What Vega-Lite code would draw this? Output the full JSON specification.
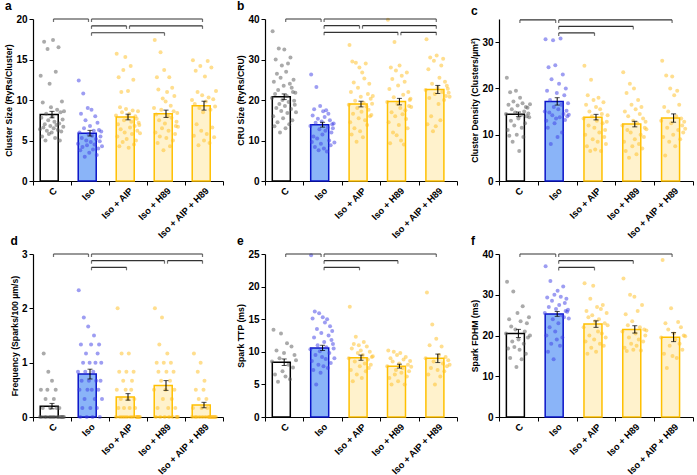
{
  "$schema": "https://vega.github.io/schema/vega-lite/v6.json",
  "padding": {"left": 4, "top": 0, "right": 0, "bottom": 0},
  "columns": 3,
  "bounds": "flush",
  "spacing": {"row": 73, "column": 42},
  "datasets": {
    "pts": [
      {"p": "a", "g": "C", "v": [6.4, 13.0, 7.8, 5.5, 9.7, 6.6, 17.2, 7.0, 5.0, 8.3, 6.2, 16.3, 7.5, 5.8, 12.0, 6.8, 9.1, 6.0, 8.0, 17.4, 6.5, 7.3, 5.3, 13.5, 6.9, 8.8, 6.3, 16.5, 7.1, 5.0, 8.5, 6.1, 9.8, 7.6, 6.7, 8.6]},
      {"p": "a", "g": "Iso", "v": [4.6, 12.4, 6.0, 3.8, 8.3, 5.3, 4.2, 10.8, 6.5, 3.0, 7.5, 5.0, 4.4, 9.0, 5.8, 3.5, 6.8, 4.8, 8.8, 5.6, 3.9, 6.2, 4.5, 8.0, 5.2, 3.2, 7.2, 4.0, 6.3, 4.9, 5.5, 6.1, 4.3]},
      {"p": "a", "g": "Iso + AIP", "v": [8.1, 15.7, 5.5, 7.0, 12.8, 4.3, 9.1, 6.4, 11.0, 8.5, 4.8, 13.7, 7.5, 6.0, 15.3, 8.9, 5.2, 7.9, 11.1, 4.1, 8.3, 6.6, 14.2, 7.3, 5.8, 8.7, 12.5, 4.5, 6.8, 8.0, 5.0, 7.7, 6.2, 8.6, 7.2, 6.9, 5.9]},
      {"p": "a", "g": "Iso + H89", "v": [9.0, 17.4, 6.0, 8.2, 12.8, 4.7, 11.3, 7.5, 5.5, 15.9, 8.8, 6.5, 10.2, 3.8, 13.7, 7.1, 9.8, 5.3, 11.0, 8.0, 6.2, 12.8, 4.3, 9.3, 7.8, 11.5, 5.0, 8.6, 10.5, 5.8, 6.8, 7.3, 8.4, 6.7]},
      {"p": "a", "g": "Iso + AIP + H89", "v": [10.0, 14.9, 5.6, 9.5, 13.6, 7.0, 11.0, 4.4, 9.0, 14.2, 6.2, 10.6, 8.5, 5.0, 12.9, 9.8, 5.8, 14.8, 10.3, 4.7, 8.8, 14.0, 6.6, 10.1, 5.4, 9.2, 11.1]},
      {"p": "b", "g": "C", "v": [20.5, 37.0, 16.0, 24.5, 13.5, 21.5, 30.0, 18.0, 26.5, 14.5, 22.5, 32.7, 19.0, 12.0, 25.5, 17.3, 28.5, 20.0, 15.5, 23.5, 32.5, 18.5, 13.0, 27.0, 21.0, 16.8, 29.0, 19.5, 14.0, 24.0, 30.5, 17.8, 23.0, 15.0, 22.0, 25.0, 19.8, 18.8, 21.8, 17.0]},
      {"p": "b", "g": "Iso", "v": [13.6, 26.3, 9.6, 16.2, 11.0, 17.7, 8.4, 14.4, 23.2, 10.5, 15.4, 7.6, 12.8, 18.5, 9.2, 14.7, 11.5, 17.2, 8.0, 15.8, 12.4, 17.5, 7.3, 13.2, 16.6, 10.0, 15.0, 8.8, 12.0, 14.0, 13.0, 14.2, 9.5]},
      {"p": "b", "g": "Iso + AIP", "v": [18.8, 33.6, 14.5, 22.0, 11.5, 29.5, 16.6, 24.3, 13.0, 19.8, 29.2, 9.7, 18.0, 23.0, 15.5, 28.0, 12.3, 20.8, 17.1, 26.8, 10.8, 19.3, 25.3, 15.0, 29.0, 18.4, 13.8, 21.5, 17.6, 24.0, 16.0, 20.3, 16.3, 19.1, 21.0]},
      {"p": "b", "g": "Iso + H89", "v": [19.5, 39.8, 14.5, 22.7, 9.3, 28.0, 17.0, 25.2, 12.0, 20.7, 34.3, 16.0, 27.3, 11.3, 19.0, 23.6, 13.8, 28.5, 18.0, 10.0, 26.0, 16.5, 21.3, 9.0, 24.5, 17.5, 15.3, 26.8, 13.0, 22.0, 18.5, 20.0, 20.3, 18.3]},
      {"p": "b", "g": "Iso + AIP + H89", "v": [22.5, 35.0, 14.0, 27.6, 20.5, 30.5, 16.0, 24.0, 12.3, 29.7, 21.5, 13.5, 31.0, 23.0, 19.0, 25.5, 15.0, 28.5, 22.0, 30.2, 20.0, 24.5, 21.0, 23.5, 22.8, 21.8, 20.8]},
      {"p": "c", "g": "C", "v": [14.5, 22.3, 11.0, 16.5, 9.8, 19.2, 13.0, 15.5, 8.5, 17.2, 12.0, 14.8, 19.5, 10.0, 16.3, 13.5, 6.5, 18.0, 14.2, 11.5, 16.8, 9.5, 15.0, 12.5, 16.0, 14.0, 15.8, 14.6, 13.8, 16.6]},
      {"p": "c", "g": "Iso", "v": [15.0, 30.6, 13.0, 19.5, 11.5, 24.6, 14.8, 17.5, 8.0, 22.0, 14.2, 30.4, 16.0, 12.5, 25.0, 13.5, 19.0, 9.5, 15.5, 21.0, 13.8, 30.8, 16.5, 10.5, 23.0, 14.5, 18.5, 13.2, 20.0, 15.2, 14.0, 16.8, 14.3]},
      {"p": "c", "g": "Iso + AIP", "v": [13.5, 24.9, 10.0, 16.5, 7.5, 18.5, 12.0, 15.0, 6.5, 21.9, 14.0, 9.0, 17.5, 11.5, 6.8, 16.0, 13.0, 8.5, 18.0, 10.5, 15.5, 6.5, 14.5, 12.5, 17.0, 9.5, 11.0, 8.0, 12.8, 14.2]},
      {"p": "c", "g": "Iso + H89", "v": [12.0, 23.5, 8.5, 15.0, 6.5, 19.0, 11.0, 14.0, 5.0, 21.0, 10.5, 16.5, 7.5, 13.0, 20.0, 9.0, 15.5, 5.8, 12.5, 17.5, 8.0, 14.5, 10.0, 16.0, 7.0, 13.5, 9.5, 11.5, 12.8, 11.2]},
      {"p": "c", "g": "Iso + AIP + H89", "v": [13.0, 26.0, 9.5, 16.0, 5.5, 22.8, 11.5, 15.0, 8.5, 20.0, 12.5, 22.6, 10.0, 18.5, 7.5, 14.0, 19.5, 11.0, 16.5, 9.0, 13.5, 12.0, 10.5, 12.8, 11.3]},
      {"p": "d", "g": "C", "v": [0, 0.5, 0, 0.167, 1.167, 0, 0.333, 0, 0.5, 0.833, 0, 0.167, 0, 0.667, 0, 0.333, 0, 0.5, 0.167, 0, 0, 0.167, 0, 0, 0, 0, 0]},
      {"p": "d", "g": "Iso", "v": [0.833, 2.333, 0.5, 0, 1.333, 0.667, 0.167, 1.0, 1.833, 0.333, 0.833, 1.167, 0, 0.5, 1.667, 0.667, 1.0, 0.167, 1.333, 0.5, 0, 0.833, 1.5, 0.333, 1.0, 0.667, 0.167, 1.167, 0.5, 1.333, 0, 0.667, 1.0, 0.333]},
      {"p": "d", "g": "Iso + AIP", "v": [0, 0.5, 2.0, 0.167, 0.833, 0, 0.333, 1.167, 0, 0.667, 0.167, 0, 0.5, 0.833, 0, 0.333, 1.167, 0.167, 0, 0.5, 0.667, 0, 0.833, 0.333, 0.167, 0, 0, 0, 0, 0, 0]},
      {"p": "d", "g": "Iso + H89", "v": [0.5, 2.0, 0, 1.0, 0.167, 0.833, 1.333, 0, 0.667, 1.833, 0.333, 1.0, 0, 0.5, 0.833, 1.167, 0.167, 0, 0.667, 1.0, 0.333, 0, 0.833, 0.5, 0.167, 0, 0, 0]},
      {"p": "d", "g": "Iso + AIP + H89", "v": [0, 0.167, 1.167, 0, 0.5, 0, 0.833, 0.333, 0, 1.0, 0.167, 0, 0.5, 0.667, 0, 0.333, 0.167, 0, 0, 0, 0, 0, 0, 0, 0, 0]},
      {"p": "e", "g": "C", "v": [8.5, 13.4, 6.5, 10.2, 5.4, 9.0, 12.8, 7.0, 9.8, 6.2, 11.3, 8.0, 5.8, 10.8, 7.6, 9.5, 8.7]},
      {"p": "e", "g": "Iso", "v": [10.4, 24.8, 8.6, 15.1, 7.2, 12.2, 16.2, 9.5, 5.0, 13.5, 11.0, 8.0, 15.9, 10.1, 6.8, 12.9, 9.2, 15.3, 7.8, 11.5, 14.5, 8.9, 10.7, 15.0, 7.5, 12.5, 9.8, 13.9, 8.3, 11.8, 13.2, 11.2, 10.5, 9.0]},
      {"p": "e", "g": "Iso + AIP", "v": [9.0, 16.9, 7.2, 10.5, 5.5, 11.2, 8.5, 12.3, 6.5, 9.8, 11.0, 7.8, 10.2, 6.0, 9.5, 11.5, 8.2, 7.0, 10.8, 8.8, 7.5, 10.0, 8.0, 9.2, 9.3]},
      {"p": "e", "g": "Iso + H89", "v": [7.8, 10.2, 6.0, 9.0, 5.0, 8.5, 10.0, 6.5, 7.2, 9.5, 5.5, 8.2, 9.8, 6.8, 7.5, 8.8, 5.0, 9.2, 6.2, 8.0, 7.0, 8.6, 7.7]},
      {"p": "e", "g": "Iso + AIP + H89", "v": [9.0, 19.1, 6.5, 11.0, 7.5, 14.2, 8.5, 5.0, 12.0, 7.2, 9.5, 6.2, 10.8, 8.2, 7.0, 9.2, 7.8, 8.7, 8.0]},
      {"p": "f", "g": "C", "v": [20.5, 33.2, 16.8, 24.0, 14.5, 22.2, 18.5, 30.8, 17.2, 21.5, 12.3, 25.5, 19.0, 16.5, 23.5, 14.2, 27.2, 18.0, 21.0, 15.5, 23.0, 19.5, 24.5, 20.0]},
      {"p": "f", "g": "Iso", "v": [25.5, 37.0, 20.0, 29.3, 16.0, 27.0, 22.0, 33.4, 18.0, 28.5, 24.0, 14.2, 30.0, 21.0, 26.5, 19.0, 31.0, 23.0, 27.5, 17.5, 29.5, 25.0, 19.5, 32.0, 24.5, 28.0, 26.0, 29.0, 25.8, 26.3, 24.2]},
      {"p": "f", "g": "Iso + AIP", "v": [22.0, 32.8, 18.5, 26.0, 15.5, 24.5, 20.0, 29.0, 17.0, 25.0, 32.2, 19.0, 23.5, 16.0, 27.0, 21.0, 24.0, 18.0, 26.5, 20.5, 27.5, 17.5, 23.0, 19.5, 25.5, 22.5]},
      {"p": "f", "g": "Iso + H89", "v": [21.0, 34.0, 17.0, 25.2, 16.2, 22.5, 19.5, 30.0, 18.0, 23.5, 16.5, 29.5, 20.5, 17.5, 26.0, 19.0, 22.0, 16.3, 27.5, 18.5, 21.5, 20.0, 21.2]},
      {"p": "f", "g": "Iso + AIP + H89", "v": [19.5, 38.5, 15.5, 23.0, 12.0, 21.5, 17.5, 26.7, 15.0, 20.5, 19.0, 14.5, 23.3, 18.0, 22.0, 16.5, 20.0, 19.8]}
    ],
    "s": [
      {"p": "a", "g": "C", "m": 8.2, "lo": 7.8, "hi": 8.6},
      {"p": "a", "g": "Iso", "m": 5.9, "lo": 5.55, "hi": 6.25},
      {"p": "a", "g": "Iso + AIP", "m": 7.9, "lo": 7.55, "hi": 8.25},
      {"p": "a", "g": "Iso + H89", "m": 8.3, "lo": 7.85, "hi": 8.75},
      {"p": "a", "g": "Iso + AIP + H89", "m": 9.3, "lo": 8.75, "hi": 9.85},
      {"p": "b", "g": "C", "m": 20.8, "lo": 20.1, "hi": 21.5},
      {"p": "b", "g": "Iso", "m": 13.9, "lo": 13.3, "hi": 14.5},
      {"p": "b", "g": "Iso + AIP", "m": 19.0, "lo": 18.3, "hi": 19.7},
      {"p": "b", "g": "Iso + H89", "m": 19.6, "lo": 18.8, "hi": 20.4},
      {"p": "b", "g": "Iso + AIP + H89", "m": 22.6, "lo": 21.6, "hi": 23.6},
      {"p": "c", "g": "C", "m": 14.4, "lo": 13.9, "hi": 14.9},
      {"p": "c", "g": "Iso", "m": 17.2, "lo": 16.4, "hi": 18.0},
      {"p": "c", "g": "Iso + AIP", "m": 13.8, "lo": 13.2, "hi": 14.4},
      {"p": "c", "g": "Iso + H89", "m": 12.3, "lo": 11.7, "hi": 12.9},
      {"p": "c", "g": "Iso + AIP + H89", "m": 13.6, "lo": 12.7, "hi": 14.5},
      {"p": "d", "g": "C", "m": 0.2, "lo": 0.15, "hi": 0.25},
      {"p": "d", "g": "Iso", "m": 0.79, "lo": 0.7, "hi": 0.88},
      {"p": "d", "g": "Iso + AIP", "m": 0.37, "lo": 0.31, "hi": 0.43},
      {"p": "d", "g": "Iso + H89", "m": 0.58, "lo": 0.49, "hi": 0.67},
      {"p": "d", "g": "Iso + AIP + H89", "m": 0.22, "lo": 0.17, "hi": 0.27},
      {"p": "e", "g": "C", "m": 8.4, "lo": 7.9, "hi": 8.9},
      {"p": "e", "g": "Iso", "m": 10.6, "lo": 10.2, "hi": 11.0},
      {"p": "e", "g": "Iso + AIP", "m": 9.1, "lo": 8.7, "hi": 9.5},
      {"p": "e", "g": "Iso + H89", "m": 7.8, "lo": 7.5, "hi": 8.1},
      {"p": "e", "g": "Iso + AIP + H89", "m": 9.0, "lo": 8.35, "hi": 9.65},
      {"p": "f", "g": "C", "m": 20.5, "lo": 19.5, "hi": 21.5},
      {"p": "f", "g": "Iso", "m": 25.3, "lo": 24.7, "hi": 25.9},
      {"p": "f", "g": "Iso + AIP", "m": 22.8, "lo": 22.0, "hi": 23.6},
      {"p": "f", "g": "Iso + H89", "m": 21.5, "lo": 20.6, "hi": 22.4},
      {"p": "f", "g": "Iso + AIP + H89", "m": 19.6, "lo": 18.5, "hi": 20.7}
    ],
    "br": [
      {"p": "a", "g1": "C", "g2": "Iso", "y": 20},
      {"p": "a", "g1": "Iso", "g2": "Iso + AIP + H89", "y": 20},
      {"p": "a", "g1": "Iso", "g2": "Iso + AIP", "y": 19.15},
      {"p": "a", "g1": "Iso + AIP", "g2": "Iso + AIP + H89", "y": 19.15},
      {"p": "a", "g1": "Iso", "g2": "Iso + H89", "y": 18.3},
      {"p": "b", "g1": "C", "g2": "Iso", "y": 40},
      {"p": "b", "g1": "Iso", "g2": "Iso + AIP + H89", "y": 40},
      {"p": "b", "g1": "Iso", "g2": "Iso + AIP", "y": 38.35},
      {"p": "b", "g1": "Iso + AIP", "g2": "Iso + AIP + H89", "y": 38.35},
      {"p": "b", "g1": "Iso", "g2": "Iso + H89", "y": 36.7},
      {"p": "b", "g1": "Iso + H89", "g2": "Iso + AIP + H89", "y": 36.7},
      {"p": "c", "g1": "C", "g2": "Iso", "y": 34.8},
      {"p": "c", "g1": "Iso", "g2": "Iso + AIP + H89", "y": 34.8},
      {"p": "c", "g1": "Iso", "g2": "Iso + H89", "y": 33.4},
      {"p": "c", "g1": "Iso", "g2": "Iso + AIP", "y": 32.0},
      {"p": "d", "g1": "C", "g2": "Iso", "y": 3},
      {"p": "d", "g1": "Iso", "g2": "Iso + AIP + H89", "y": 3},
      {"p": "d", "g1": "Iso", "g2": "Iso + H89", "y": 2.877},
      {"p": "d", "g1": "Iso + H89", "g2": "Iso + AIP + H89", "y": 2.877},
      {"p": "d", "g1": "Iso", "g2": "Iso + AIP", "y": 2.755},
      {"p": "e", "g1": "C", "g2": "Iso", "y": 25},
      {"p": "e", "g1": "Iso", "g2": "Iso + AIP + H89", "y": 25},
      {"p": "e", "g1": "Iso", "g2": "Iso + H89", "y": 23.97},
      {"p": "e", "g1": "Iso", "g2": "Iso + AIP", "y": 22.96},
      {"p": "f", "g1": "C", "g2": "Iso", "y": 40},
      {"p": "f", "g1": "Iso", "g2": "Iso + AIP + H89", "y": 40},
      {"p": "f", "g1": "Iso", "g2": "Iso + H89", "y": 38.35},
      {"p": "f", "g1": "Iso", "g2": "Iso + AIP", "y": 36.7}
    ]
  },
  "concat": [
    {
      "title": "a", "width": 190, "height": 162,
      "layer": [
        {"data": {"name": "s"}, "transform": [{"filter": "datum.p == 'a'"}],
         "mark": {"type": "bar", "width": {"band": 0.62}, "strokeWidth": 1.5},
         "encoding": {
           "x": {"field": "g", "type": "nominal", "sort": null, "scale": {"domain": ["C", "Iso", "Iso + AIP", "Iso + H89", "Iso + AIP + H89"], "paddingInner": 0, "paddingOuter": 0}, "axis": {"title": null}},
           "y": {"field": "m", "type": "quantitative", "scale": {"domain": [0, 20], "nice": false, "zero": true}, "axis": {"values": [0, 5, 10, 15, 20], "tickCount": 10, "title": "Cluster Size (RyRs/Cluster)"}},
           "fill": {"field": "g", "type": "nominal", "scale": {"domain": ["C", "Iso", "Iso + AIP", "Iso + H89", "Iso + AIP + H89"], "range": ["#ffffff", "#8ab4f8", "#fff2cc", "#fff2cc", "#fff2cc"]}, "legend": null},
           "stroke": {"field": "g", "type": "nominal", "scale": {"domain": ["C", "Iso", "Iso + AIP", "Iso + H89", "Iso + AIP + H89"], "range": ["#000000", "#0a14c8", "#ffc000", "#ffc000", "#ffc000"]}, "legend": null}
         }},
        {"data": {"name": "pts"}, "transform": [{"filter": "datum.p == 'a'"}, {"flatten": ["v"]}, {"window": [{"op": "row_number", "as": "i"}], "groupby": ["g"]}, {"window": [{"op": "percent_rank", "as": "j"}], "sort": [{"field": "i"}], "groupby": ["g"]}],
         "mark": {"type": "circle", "size": 16, "opacity": 0.5},
         "encoding": {
           "x": {"field": "g", "type": "nominal"},
           "xOffset": {"field": "j", "type": "quantitative", "scale": {"domain": [0, 1], "range": [7, 31]}},
           "y": {"field": "v", "type": "quantitative"},
           "color": {"field": "g", "type": "nominal", "scale": {"domain": ["C", "Iso", "Iso + AIP", "Iso + H89", "Iso + AIP + H89"], "range": ["#555555", "#3c3ce6", "#ffbe1e", "#ffbe1e", "#ffbe1e"]}, "legend": null}
         }},
        {"data": {"name": "s"}, "transform": [{"filter": "datum.p == 'a'"}],
         "mark": {"type": "rule", "color": "black", "strokeWidth": 1},
         "encoding": {"x": {"field": "g", "type": "nominal"}, "y": {"field": "lo", "type": "quantitative"}, "y2": {"field": "hi"}}},
        {"data": {"name": "s"}, "transform": [{"filter": "datum.p == 'a'"}, {"fold": ["lo", "hi"]}],
         "mark": {"type": "tick", "orient": "horizontal", "size": 5, "thickness": 1, "color": "black"},
         "encoding": {"x": {"field": "g", "type": "nominal"}, "y": {"field": "value", "type": "quantitative"}}},
        {"data": {"name": "br"}, "transform": [{"filter": "datum.p == 'a'"}],
         "mark": {"type": "rule", "color": "#333333", "strokeWidth": 1.2, "xOffset": 1.5, "x2Offset": -1.5},
         "encoding": {"x": {"field": "g1", "type": "nominal"}, "x2": {"field": "g2"}, "y": {"field": "y", "type": "quantitative"}}},
        {"data": {"name": "br"}, "transform": [{"filter": "datum.p == 'a'"}],
         "mark": {"type": "tick", "orient": "vertical", "size": 3, "thickness": 1.2, "color": "#333333", "xOffset": 1.5, "yOffset": 1.5},
         "encoding": {"x": {"field": "g1", "type": "nominal"}, "y": {"field": "y", "type": "quantitative"}}},
        {"data": {"name": "br"}, "transform": [{"filter": "datum.p == 'a'"}],
         "mark": {"type": "tick", "orient": "vertical", "size": 3, "thickness": 1.2, "color": "#333333", "xOffset": -1.5, "yOffset": 1.5},
         "encoding": {"x": {"field": "g2", "type": "nominal"}, "y": {"field": "y", "type": "quantitative"}}}
      ]
    },
    {
      "title": "b", "width": 192, "height": 162,
      "layer": [
        {"data": {"name": "s"}, "transform": [{"filter": "datum.p == 'b'"}],
         "mark": {"type": "bar", "width": {"band": 0.62}, "strokeWidth": 1.5},
         "encoding": {
           "x": {"field": "g", "type": "nominal", "sort": null, "scale": {"domain": ["C", "Iso", "Iso + AIP", "Iso + H89", "Iso + AIP + H89"], "paddingInner": 0, "paddingOuter": 0}, "axis": {"title": null}},
           "y": {"field": "m", "type": "quantitative", "scale": {"domain": [0, 40], "nice": false, "zero": true}, "axis": {"values": [0, 10, 20, 30, 40], "tickCount": 10, "title": "CRU Size (RyRs/CRU)"}},
           "fill": {"field": "g", "type": "nominal", "scale": {"domain": ["C", "Iso", "Iso + AIP", "Iso + H89", "Iso + AIP + H89"], "range": ["#ffffff", "#8ab4f8", "#fff2cc", "#fff2cc", "#fff2cc"]}, "legend": null},
           "stroke": {"field": "g", "type": "nominal", "scale": {"domain": ["C", "Iso", "Iso + AIP", "Iso + H89", "Iso + AIP + H89"], "range": ["#000000", "#0a14c8", "#ffc000", "#ffc000", "#ffc000"]}, "legend": null}
         }},
        {"data": {"name": "pts"}, "transform": [{"filter": "datum.p == 'b'"}, {"flatten": ["v"]}, {"window": [{"op": "row_number", "as": "i"}], "groupby": ["g"]}, {"window": [{"op": "percent_rank", "as": "j"}], "sort": [{"field": "i"}], "groupby": ["g"]}],
         "mark": {"type": "circle", "size": 16, "opacity": 0.5},
         "encoding": {
           "x": {"field": "g", "type": "nominal"},
           "xOffset": {"field": "j", "type": "quantitative", "scale": {"domain": [0, 1], "range": [7, 31]}},
           "y": {"field": "v", "type": "quantitative"},
           "color": {"field": "g", "type": "nominal", "scale": {"domain": ["C", "Iso", "Iso + AIP", "Iso + H89", "Iso + AIP + H89"], "range": ["#555555", "#3c3ce6", "#ffbe1e", "#ffbe1e", "#ffbe1e"]}, "legend": null}
         }},
        {"data": {"name": "s"}, "transform": [{"filter": "datum.p == 'b'"}],
         "mark": {"type": "rule", "color": "black", "strokeWidth": 1},
         "encoding": {"x": {"field": "g", "type": "nominal"}, "y": {"field": "lo", "type": "quantitative"}, "y2": {"field": "hi"}}},
        {"data": {"name": "s"}, "transform": [{"filter": "datum.p == 'b'"}, {"fold": ["lo", "hi"]}],
         "mark": {"type": "tick", "orient": "horizontal", "size": 5, "thickness": 1, "color": "black"},
         "encoding": {"x": {"field": "g", "type": "nominal"}, "y": {"field": "value", "type": "quantitative"}}},
        {"data": {"name": "br"}, "transform": [{"filter": "datum.p == 'b'"}],
         "mark": {"type": "rule", "color": "#333333", "strokeWidth": 1.2, "xOffset": 1.5, "x2Offset": -1.5},
         "encoding": {"x": {"field": "g1", "type": "nominal"}, "x2": {"field": "g2"}, "y": {"field": "y", "type": "quantitative"}}},
        {"data": {"name": "br"}, "transform": [{"filter": "datum.p == 'b'"}],
         "mark": {"type": "tick", "orient": "vertical", "size": 3, "thickness": 1.2, "color": "#333333", "xOffset": 1.5, "yOffset": 1.5},
         "encoding": {"x": {"field": "g1", "type": "nominal"}, "y": {"field": "y", "type": "quantitative"}}},
        {"data": {"name": "br"}, "transform": [{"filter": "datum.p == 'b'"}],
         "mark": {"type": "tick", "orient": "vertical", "size": 3, "thickness": 1.2, "color": "#333333", "xOffset": -1.5, "yOffset": 1.5},
         "encoding": {"x": {"field": "g2", "type": "nominal"}, "y": {"field": "y", "type": "quantitative"}}}
      ]
    },
    {
      "title": "c", "width": 194, "height": 162,
      "layer": [
        {"data": {"name": "s"}, "transform": [{"filter": "datum.p == 'c'"}],
         "mark": {"type": "bar", "width": {"band": 0.62}, "strokeWidth": 1.5},
         "encoding": {
           "x": {"field": "g", "type": "nominal", "sort": null, "scale": {"domain": ["C", "Iso", "Iso + AIP", "Iso + H89", "Iso + AIP + H89"], "paddingInner": 0, "paddingOuter": 0}, "axis": {"title": null}},
           "y": {"field": "m", "type": "quantitative", "scale": {"domain": [0, 35], "nice": false, "zero": true}, "axis": {"values": [0, 10, 20, 30], "tickCount": 10, "title": "Cluster Density (Clusters/µm²)"}},
           "fill": {"field": "g", "type": "nominal", "scale": {"domain": ["C", "Iso", "Iso + AIP", "Iso + H89", "Iso + AIP + H89"], "range": ["#ffffff", "#8ab4f8", "#fff2cc", "#fff2cc", "#fff2cc"]}, "legend": null},
           "stroke": {"field": "g", "type": "nominal", "scale": {"domain": ["C", "Iso", "Iso + AIP", "Iso + H89", "Iso + AIP + H89"], "range": ["#000000", "#0a14c8", "#ffc000", "#ffc000", "#ffc000"]}, "legend": null}
         }},
        {"data": {"name": "pts"}, "transform": [{"filter": "datum.p == 'c'"}, {"flatten": ["v"]}, {"window": [{"op": "row_number", "as": "i"}], "groupby": ["g"]}, {"window": [{"op": "percent_rank", "as": "j"}], "sort": [{"field": "i"}], "groupby": ["g"]}],
         "mark": {"type": "circle", "size": 16, "opacity": 0.5},
         "encoding": {
           "x": {"field": "g", "type": "nominal"},
           "xOffset": {"field": "j", "type": "quantitative", "scale": {"domain": [0, 1], "range": [7, 31]}},
           "y": {"field": "v", "type": "quantitative"},
           "color": {"field": "g", "type": "nominal", "scale": {"domain": ["C", "Iso", "Iso + AIP", "Iso + H89", "Iso + AIP + H89"], "range": ["#555555", "#3c3ce6", "#ffbe1e", "#ffbe1e", "#ffbe1e"]}, "legend": null}
         }},
        {"data": {"name": "s"}, "transform": [{"filter": "datum.p == 'c'"}],
         "mark": {"type": "rule", "color": "black", "strokeWidth": 1},
         "encoding": {"x": {"field": "g", "type": "nominal"}, "y": {"field": "lo", "type": "quantitative"}, "y2": {"field": "hi"}}},
        {"data": {"name": "s"}, "transform": [{"filter": "datum.p == 'c'"}, {"fold": ["lo", "hi"]}],
         "mark": {"type": "tick", "orient": "horizontal", "size": 5, "thickness": 1, "color": "black"},
         "encoding": {"x": {"field": "g", "type": "nominal"}, "y": {"field": "value", "type": "quantitative"}}},
        {"data": {"name": "br"}, "transform": [{"filter": "datum.p == 'c'"}],
         "mark": {"type": "rule", "color": "#333333", "strokeWidth": 1.2, "xOffset": 1.5, "x2Offset": -1.5},
         "encoding": {"x": {"field": "g1", "type": "nominal"}, "x2": {"field": "g2"}, "y": {"field": "y", "type": "quantitative"}}},
        {"data": {"name": "br"}, "transform": [{"filter": "datum.p == 'c'"}],
         "mark": {"type": "tick", "orient": "vertical", "size": 3, "thickness": 1.2, "color": "#333333", "xOffset": 1.5, "yOffset": 1.5},
         "encoding": {"x": {"field": "g1", "type": "nominal"}, "y": {"field": "y", "type": "quantitative"}}},
        {"data": {"name": "br"}, "transform": [{"filter": "datum.p == 'c'"}],
         "mark": {"type": "tick", "orient": "vertical", "size": 3, "thickness": 1.2, "color": "#333333", "xOffset": -1.5, "yOffset": 1.5},
         "encoding": {"x": {"field": "g2", "type": "nominal"}, "y": {"field": "y", "type": "quantitative"}}}
      ]
    },
    {
      "title": "d", "width": 190, "height": 163,
      "layer": [
        {"data": {"name": "s"}, "transform": [{"filter": "datum.p == 'd'"}],
         "mark": {"type": "bar", "width": {"band": 0.62}, "strokeWidth": 1.5},
         "encoding": {
           "x": {"field": "g", "type": "nominal", "sort": null, "scale": {"domain": ["C", "Iso", "Iso + AIP", "Iso + H89", "Iso + AIP + H89"], "paddingInner": 0, "paddingOuter": 0}, "axis": {"title": null}},
           "y": {"field": "m", "type": "quantitative", "scale": {"domain": [0, 3], "nice": false, "zero": true}, "axis": {"values": [0, 1, 2, 3], "tickCount": 10, "format": "d", "title": "Frequency (Sparks/100 µm/s)"}},
           "fill": {"field": "g", "type": "nominal", "scale": {"domain": ["C", "Iso", "Iso + AIP", "Iso + H89", "Iso + AIP + H89"], "range": ["#ffffff", "#8ab4f8", "#fff2cc", "#fff2cc", "#fff2cc"]}, "legend": null},
           "stroke": {"field": "g", "type": "nominal", "scale": {"domain": ["C", "Iso", "Iso + AIP", "Iso + H89", "Iso + AIP + H89"], "range": ["#000000", "#0a14c8", "#ffc000", "#ffc000", "#ffc000"]}, "legend": null}
         }},
        {"data": {"name": "pts"}, "transform": [{"filter": "datum.p == 'd'"}, {"flatten": ["v"]}, {"window": [{"op": "row_number", "as": "i"}], "groupby": ["g"]}, {"window": [{"op": "percent_rank", "as": "j"}], "sort": [{"field": "i"}], "groupby": ["g"]}],
         "mark": {"type": "circle", "size": 16, "opacity": 0.5},
         "encoding": {
           "x": {"field": "g", "type": "nominal"},
           "xOffset": {"field": "j", "type": "quantitative", "scale": {"domain": [0, 1], "range": [7, 31]}},
           "y": {"field": "v", "type": "quantitative"},
           "color": {"field": "g", "type": "nominal", "scale": {"domain": ["C", "Iso", "Iso + AIP", "Iso + H89", "Iso + AIP + H89"], "range": ["#555555", "#3c3ce6", "#ffbe1e", "#ffbe1e", "#ffbe1e"]}, "legend": null}
         }},
        {"data": {"name": "s"}, "transform": [{"filter": "datum.p == 'd'"}],
         "mark": {"type": "rule", "color": "black", "strokeWidth": 1},
         "encoding": {"x": {"field": "g", "type": "nominal"}, "y": {"field": "lo", "type": "quantitative"}, "y2": {"field": "hi"}}},
        {"data": {"name": "s"}, "transform": [{"filter": "datum.p == 'd'"}, {"fold": ["lo", "hi"]}],
         "mark": {"type": "tick", "orient": "horizontal", "size": 5, "thickness": 1, "color": "black"},
         "encoding": {"x": {"field": "g", "type": "nominal"}, "y": {"field": "value", "type": "quantitative"}}},
        {"data": {"name": "br"}, "transform": [{"filter": "datum.p == 'd'"}],
         "mark": {"type": "rule", "color": "#333333", "strokeWidth": 1.2, "xOffset": 1.5, "x2Offset": -1.5},
         "encoding": {"x": {"field": "g1", "type": "nominal"}, "x2": {"field": "g2"}, "y": {"field": "y", "type": "quantitative"}}},
        {"data": {"name": "br"}, "transform": [{"filter": "datum.p == 'd'"}],
         "mark": {"type": "tick", "orient": "vertical", "size": 3, "thickness": 1.2, "color": "#333333", "xOffset": 1.5, "yOffset": 1.5},
         "encoding": {"x": {"field": "g1", "type": "nominal"}, "y": {"field": "y", "type": "quantitative"}}},
        {"data": {"name": "br"}, "transform": [{"filter": "datum.p == 'd'"}],
         "mark": {"type": "tick", "orient": "vertical", "size": 3, "thickness": 1.2, "color": "#333333", "xOffset": -1.5, "yOffset": 1.5},
         "encoding": {"x": {"field": "g2", "type": "nominal"}, "y": {"field": "y", "type": "quantitative"}}}
      ]
    },
    {
      "title": "e", "width": 192, "height": 163,
      "layer": [
        {"data": {"name": "s"}, "transform": [{"filter": "datum.p == 'e'"}],
         "mark": {"type": "bar", "width": {"band": 0.62}, "strokeWidth": 1.5},
         "encoding": {
           "x": {"field": "g", "type": "nominal", "sort": null, "scale": {"domain": ["C", "Iso", "Iso + AIP", "Iso + H89", "Iso + AIP + H89"], "paddingInner": 0, "paddingOuter": 0}, "axis": {"title": null}},
           "y": {"field": "m", "type": "quantitative", "scale": {"domain": [0, 25], "nice": false, "zero": true}, "axis": {"values": [0, 5, 10, 15, 20, 25], "tickCount": 10, "title": "Spark TTP (ms)"}},
           "fill": {"field": "g", "type": "nominal", "scale": {"domain": ["C", "Iso", "Iso + AIP", "Iso + H89", "Iso + AIP + H89"], "range": ["#ffffff", "#8ab4f8", "#fff2cc", "#fff2cc", "#fff2cc"]}, "legend": null},
           "stroke": {"field": "g", "type": "nominal", "scale": {"domain": ["C", "Iso", "Iso + AIP", "Iso + H89", "Iso + AIP + H89"], "range": ["#000000", "#0a14c8", "#ffc000", "#ffc000", "#ffc000"]}, "legend": null}
         }},
        {"data": {"name": "pts"}, "transform": [{"filter": "datum.p == 'e'"}, {"flatten": ["v"]}, {"window": [{"op": "row_number", "as": "i"}], "groupby": ["g"]}, {"window": [{"op": "percent_rank", "as": "j"}], "sort": [{"field": "i"}], "groupby": ["g"]}],
         "mark": {"type": "circle", "size": 16, "opacity": 0.5},
         "encoding": {
           "x": {"field": "g", "type": "nominal"},
           "xOffset": {"field": "j", "type": "quantitative", "scale": {"domain": [0, 1], "range": [7, 31]}},
           "y": {"field": "v", "type": "quantitative"},
           "color": {"field": "g", "type": "nominal", "scale": {"domain": ["C", "Iso", "Iso + AIP", "Iso + H89", "Iso + AIP + H89"], "range": ["#555555", "#3c3ce6", "#ffbe1e", "#ffbe1e", "#ffbe1e"]}, "legend": null}
         }},
        {"data": {"name": "s"}, "transform": [{"filter": "datum.p == 'e'"}],
         "mark": {"type": "rule", "color": "black", "strokeWidth": 1},
         "encoding": {"x": {"field": "g", "type": "nominal"}, "y": {"field": "lo", "type": "quantitative"}, "y2": {"field": "hi"}}},
        {"data": {"name": "s"}, "transform": [{"filter": "datum.p == 'e'"}, {"fold": ["lo", "hi"]}],
         "mark": {"type": "tick", "orient": "horizontal", "size": 5, "thickness": 1, "color": "black"},
         "encoding": {"x": {"field": "g", "type": "nominal"}, "y": {"field": "value", "type": "quantitative"}}},
        {"data": {"name": "br"}, "transform": [{"filter": "datum.p == 'e'"}],
         "mark": {"type": "rule", "color": "#333333", "strokeWidth": 1.2, "xOffset": 1.5, "x2Offset": -1.5},
         "encoding": {"x": {"field": "g1", "type": "nominal"}, "x2": {"field": "g2"}, "y": {"field": "y", "type": "quantitative"}}},
        {"data": {"name": "br"}, "transform": [{"filter": "datum.p == 'e'"}],
         "mark": {"type": "tick", "orient": "vertical", "size": 3, "thickness": 1.2, "color": "#333333", "xOffset": 1.5, "yOffset": 1.5},
         "encoding": {"x": {"field": "g1", "type": "nominal"}, "y": {"field": "y", "type": "quantitative"}}},
        {"data": {"name": "br"}, "transform": [{"filter": "datum.p == 'e'"}],
         "mark": {"type": "tick", "orient": "vertical", "size": 3, "thickness": 1.2, "color": "#333333", "xOffset": -1.5, "yOffset": 1.5},
         "encoding": {"x": {"field": "g2", "type": "nominal"}, "y": {"field": "y", "type": "quantitative"}}}
      ]
    },
    {
      "title": "f", "width": 194, "height": 163,
      "layer": [
        {"data": {"name": "s"}, "transform": [{"filter": "datum.p == 'f'"}],
         "mark": {"type": "bar", "width": {"band": 0.62}, "strokeWidth": 1.5},
         "encoding": {
           "x": {"field": "g", "type": "nominal", "sort": null, "scale": {"domain": ["C", "Iso", "Iso + AIP", "Iso + H89", "Iso + AIP + H89"], "paddingInner": 0, "paddingOuter": 0}, "axis": {"title": null}},
           "y": {"field": "m", "type": "quantitative", "scale": {"domain": [0, 40], "nice": false, "zero": true}, "axis": {"values": [0, 10, 20, 30, 40], "tickCount": 10, "title": "Spark FDHM (ms)"}},
           "fill": {"field": "g", "type": "nominal", "scale": {"domain": ["C", "Iso", "Iso + AIP", "Iso + H89", "Iso + AIP + H89"], "range": ["#ffffff", "#8ab4f8", "#fff2cc", "#fff2cc", "#fff2cc"]}, "legend": null},
           "stroke": {"field": "g", "type": "nominal", "scale": {"domain": ["C", "Iso", "Iso + AIP", "Iso + H89", "Iso + AIP + H89"], "range": ["#000000", "#0a14c8", "#ffc000", "#ffc000", "#ffc000"]}, "legend": null}
         }},
        {"data": {"name": "pts"}, "transform": [{"filter": "datum.p == 'f'"}, {"flatten": ["v"]}, {"window": [{"op": "row_number", "as": "i"}], "groupby": ["g"]}, {"window": [{"op": "percent_rank", "as": "j"}], "sort": [{"field": "i"}], "groupby": ["g"]}],
         "mark": {"type": "circle", "size": 16, "opacity": 0.5},
         "encoding": {
           "x": {"field": "g", "type": "nominal"},
           "xOffset": {"field": "j", "type": "quantitative", "scale": {"domain": [0, 1], "range": [7, 31]}},
           "y": {"field": "v", "type": "quantitative"},
           "color": {"field": "g", "type": "nominal", "scale": {"domain": ["C", "Iso", "Iso + AIP", "Iso + H89", "Iso + AIP + H89"], "range": ["#555555", "#3c3ce6", "#ffbe1e", "#ffbe1e", "#ffbe1e"]}, "legend": null}
         }},
        {"data": {"name": "s"}, "transform": [{"filter": "datum.p == 'f'"}],
         "mark": {"type": "rule", "color": "black", "strokeWidth": 1},
         "encoding": {"x": {"field": "g", "type": "nominal"}, "y": {"field": "lo", "type": "quantitative"}, "y2": {"field": "hi"}}},
        {"data": {"name": "s"}, "transform": [{"filter": "datum.p == 'f'"}, {"fold": ["lo", "hi"]}],
         "mark": {"type": "tick", "orient": "horizontal", "size": 5, "thickness": 1, "color": "black"},
         "encoding": {"x": {"field": "g", "type": "nominal"}, "y": {"field": "value", "type": "quantitative"}}},
        {"data": {"name": "br"}, "transform": [{"filter": "datum.p == 'f'"}],
         "mark": {"type": "rule", "color": "#333333", "strokeWidth": 1.2, "xOffset": 1.5, "x2Offset": -1.5},
         "encoding": {"x": {"field": "g1", "type": "nominal"}, "x2": {"field": "g2"}, "y": {"field": "y", "type": "quantitative"}}},
        {"data": {"name": "br"}, "transform": [{"filter": "datum.p == 'f'"}],
         "mark": {"type": "tick", "orient": "vertical", "size": 3, "thickness": 1.2, "color": "#333333", "xOffset": 1.5, "yOffset": 1.5},
         "encoding": {"x": {"field": "g1", "type": "nominal"}, "y": {"field": "y", "type": "quantitative"}}},
        {"data": {"name": "br"}, "transform": [{"filter": "datum.p == 'f'"}],
         "mark": {"type": "tick", "orient": "vertical", "size": 3, "thickness": 1.2, "color": "#333333", "xOffset": -1.5, "yOffset": 1.5},
         "encoding": {"x": {"field": "g2", "type": "nominal"}, "y": {"field": "y", "type": "quantitative"}}}
      ]
    }
  ],
  "config": {
    "view": {"stroke": null},
    "font": "Liberation Sans",
    "axis": {"domainColor": "#000000", "domainWidth": 1.2, "tickColor": "#000000", "tickSize": 4, "labelColor": "#000000", "titleColor": "#000000", "labelFont": "Liberation Sans", "titleFont": "Liberation Sans", "labelFontWeight": "bold", "labelFontSize": 10, "titleFontSize": 8.7, "titleFontWeight": "bold", "grid": false, "labelOverlap": false},
    "axisX": {"labelAngle": -45, "tickBand": "extent", "labelPadding": 1, "labelFontSize": 9.4},
    "axisY": {"labelPadding": 2, "titlePadding": 2, "labelBound": false, "labelFlush": false},
    "title": {"anchor": "start", "frame": "bounds", "fontSize": 12, "fontWeight": "bold", "font": "Liberation Sans", "color": "#000000", "offset": 1}
  }
}
